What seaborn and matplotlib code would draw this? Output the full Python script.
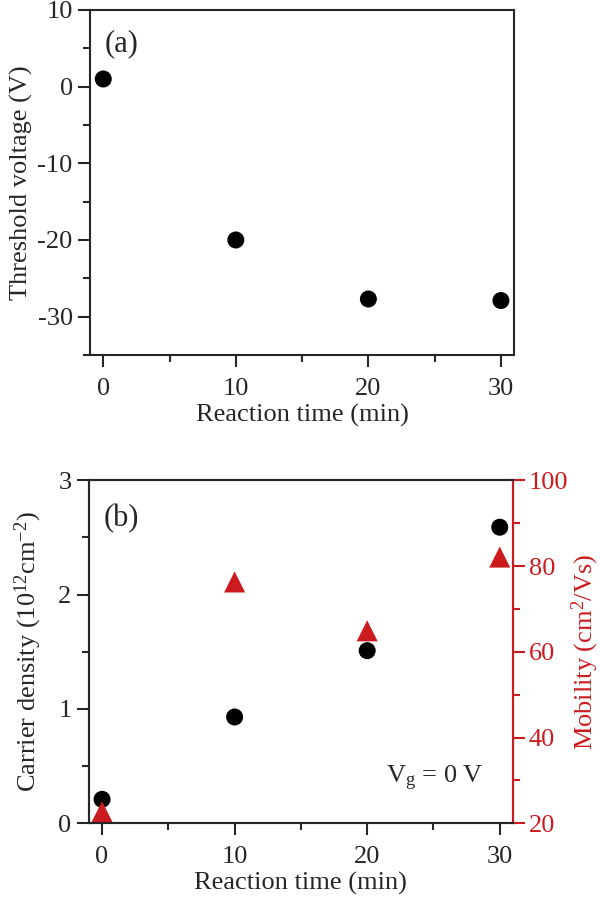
import numpy as np
import pandas as pd
import matplotlib
matplotlib.use("Agg")
import matplotlib.pyplot as plt
from matplotlib.ticker import MultipleLocator
import seaborn as sns

# Data
time_min = [0, 10, 20, 30]
threshold_v = [1.0, -20.0, -27.7, -27.9]
carrier_density = [0.21, 0.93, 1.51, 2.59]
mobility = [22.7, 76.3, 64.9, 82.1]

sns.set_style("ticks")
plt.rcParams['font.family'] = ['Liberation Serif', 'DejaVu Serif']
plt.rcParams['mathtext.fontset'] = 'custom'
plt.rcParams['mathtext.rm'] = 'Liberation Serif'
plt.rcParams['mathtext.it'] = 'Liberation Serif'

RED = '#cc1b1f'
FS = 19

df = pd.DataFrame({"t": time_min, "vth": threshold_v, "n": carrier_density, "mu": mobility})

fig = plt.figure(figsize=(6, 9), dpi=100)
ax1 = fig.add_axes([0.150, 0.6056, 0.707, 0.3833])
ax2 = fig.add_axes([0.148, 0.0852, 0.707, 0.3811])

def style_axis(ax):
    for s in ax.spines.values():
        s.set_linewidth(1.5)
    ax.tick_params(which='major', direction='out', length=8.5, width=1.5, labelsize=FS, pad=4)
    ax.tick_params(which='minor', direction='out', length=5, width=1.5)
    ax.tick_params(axis='x', which='major', pad=8)

# Panel (a)
sns.scatterplot(data=df, x="t", y="vth", ax=ax1, color='black', s=150, edgecolor='none', legend=False)
ax1.set_xlim(-1, 31)
ax1.set_ylim(-35, 10)
ax1.xaxis.set_major_locator(MultipleLocator(10))
ax1.xaxis.set_minor_locator(MultipleLocator(5))
ax1.yaxis.set_major_locator(MultipleLocator(10))
ax1.yaxis.set_minor_locator(MultipleLocator(5))
ax1.set_xlabel("Reaction time (min)", fontsize=FS, labelpad=3)
ax1.set_ylabel("Threshold voltage (V)", fontsize=FS, labelpad=3)
style_axis(ax1)
ax1.text(0.035, 0.945, "(a)", transform=ax1.transAxes, fontsize=22, va='top', ha='left')
ax1.set_yticks([-30, -20, -10, 0, 10])
ax1.set_yticklabels(["-30", "-20", "-10", "0", "10"])

# Panel (b)
sns.scatterplot(data=df, x="t", y="n", ax=ax2, color='black', s=150, edgecolor='none', legend=False, zorder=3)
ax2.set_xlim(-1, 31)
ax2.set_ylim(0, 3)
ax2.xaxis.set_major_locator(MultipleLocator(10))
ax2.xaxis.set_minor_locator(MultipleLocator(5))
ax2.yaxis.set_major_locator(MultipleLocator(1))
ax2.yaxis.set_minor_locator(MultipleLocator(0.5))
ax2.set_xlabel("Reaction time (min)", fontsize=FS, labelpad=3)
ax2.set_ylabel(r"Carrier density (10$^{12}$cm$^{-2}$)", fontsize=FS, labelpad=10)
style_axis(ax2)
ax2.text(0.035, 0.93, "(b)", transform=ax2.transAxes, fontsize=22, va='top', ha='left')

ax3 = ax2.twinx()
sns.scatterplot(data=df, x="t", y="mu", ax=ax3, color=RED, marker='^', s=230, edgecolor='none', legend=False)
ax3.set_ylim(20, 100)
ax3.yaxis.set_major_locator(MultipleLocator(20))
ax3.yaxis.set_minor_locator(MultipleLocator(10))
ax3.set_ylabel(r"Mobility (cm$^{2}$/Vs)", fontsize=FS, color=RED, labelpad=1)
style_axis(ax3)
ax3.spines['right'].set_color(RED)
ax3.tick_params(axis='y', which='both', colors=RED, pad=3)
ax3.set_xlabel("")
ax2.text(0.70, 0.13, r"V$_{\mathrm{g}}$ = 0 V", transform=ax2.transAxes, fontsize=FS, va='center', ha='left')

fig.savefig("out.png", dpi=100)
